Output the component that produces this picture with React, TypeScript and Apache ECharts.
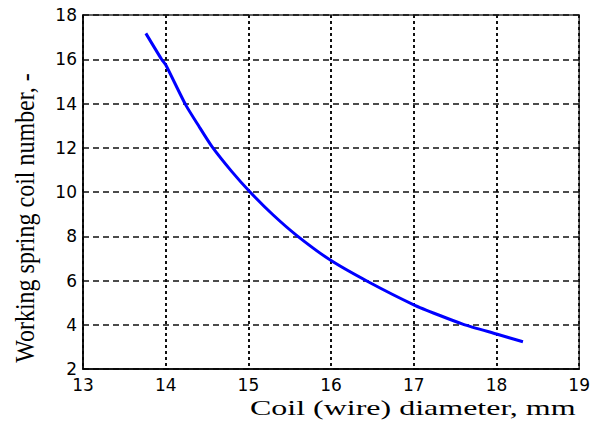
import React, { useEffect, useRef } from "react";
import * as echarts from "echarts";

const diameters = [13.76, 13.95, 14.0, 14.24, 14.4, 14.56, 14.8, 15.02, 15.3, 15.59, 16.0, 16.46, 17.0, 17.3, 17.6, 18.0, 18.32];
const coilNumbers = [17.17, 16.0, 15.75, 13.95, 12.98, 12.05, 10.92, 10.0, 8.96, 8.02, 6.9, 5.92, 4.9, 4.44, 4.02, 3.58, 3.23];
const xTitle = "Coil (wire) diameter, mm";
const yTitle = "Working spring coil number, -";

export default function App() {
  const ref = useRef<HTMLDivElement>(null);
  useEffect(() => {
    if (!ref.current) return;
    const chart = echarts.init(ref.current, undefined, { renderer: "svg" });
    const tickFont = { fontFamily: "DejaVu Sans, sans-serif", fontSize: 17, color: "#000" };
    chart.setOption({
      animation: false,
      backgroundColor: "#fff",
      grid: {
        left: 83, right: 13, top: 15, bottom: 52,
        show: true, borderColor: "#333", borderWidth: 1.5, backgroundColor: "transparent",
      },
      xAxis: {
        type: "value", min: 13, max: 19, interval: 1,
        axisLine: { show: true, lineStyle: { color: "#000", width: 1.5 } },
        axisTick: { show: false },
        axisLabel: { ...tickFont, margin: 7 },
        splitLine: { show: true, lineStyle: { color: "#111", width: 2, type: [3, 3] } },
      },
      yAxis: {
        type: "value", min: 2, max: 18, interval: 2,
        axisLine: { show: true, lineStyle: { color: "#000", width: 1.5 } },
        axisTick: { show: false },
        axisLabel: { ...tickFont, margin: 6 },
        splitLine: { show: true, lineStyle: { color: "#111", width: 1.5, type: [6, 4] } },
      },
      graphic: [
        {
          type: "text", x: 250, y: 408, scaleX: 1.6, scaleY: 1.05,
          style: {
            text: xTitle, font: "20px 'Liberation Serif', 'Times New Roman', serif", fill: "#000",
            align: "left", verticalAlign: "middle",
          },
        },
        {
          type: "text", x: 25, y: 218, rotation: Math.PI / 2, scaleX: 1.2, scaleY: 1.4,
          style: {
            text: yTitle, font: "20px 'Liberation Serif', 'Times New Roman', serif", fill: "#000",
            align: "center", verticalAlign: "middle",
          },
        },
      ],
      series: [
        {
          type: "line",
          data: diameters.map((d, i) => [d, coilNumbers[i]]),
          smooth: 0.2,
          showSymbol: false,
          lineStyle: { color: "#0000ff", width: 3 },
        },
      ],
    });
    return () => chart.dispose();
  }, []);
  return <div ref={ref} style={{ position: "fixed", left: 0, top: 0, width: 593, height: 421 }} />;
}
